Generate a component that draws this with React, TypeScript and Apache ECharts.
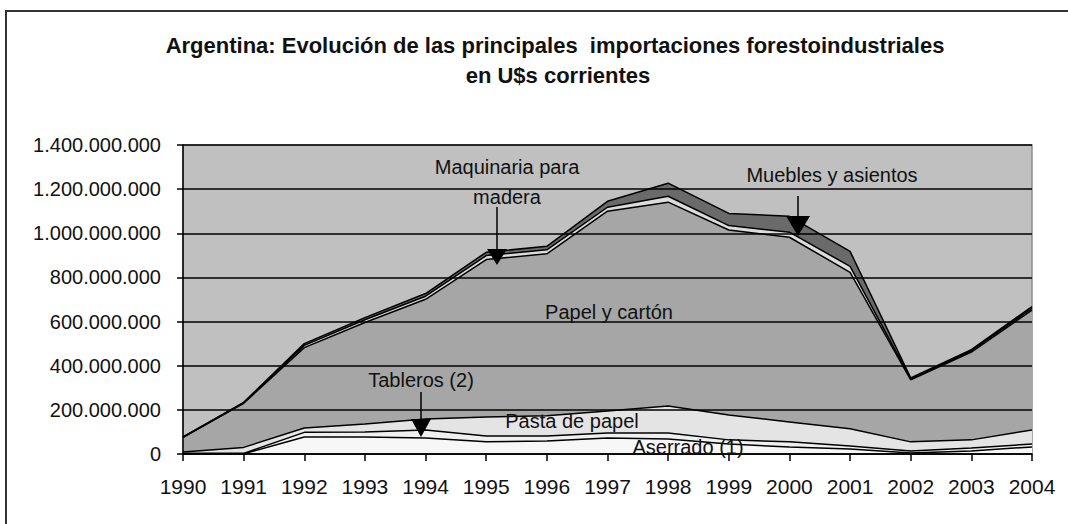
import React, { useEffect, useRef } from "react";
import * as echarts from "echarts";

const years = ["1990","1991","1992","1993","1994","1995","1996","1997","1998","1999","2000","2001","2002","2003","2004"];
// values in millions of U$s
const aserrado = [1, 1, 77, 77, 73, 55, 59, 73, 68, 45, 32, 23, 5, 14, 32];
const tableros = [2, 2, 21, 23, 36, 27, 23, 22, 27, 19, 23, 13, 9, 13, 13];
const pasta = [6, 27, 20, 36, 50, 86, 91, 100, 123, 113, 90, 78, 41, 37, 64];
const papel = [66, 200, 364, 460, 542, 713, 734, 905, 923, 838, 837, 709, 281, 398, 543];
const maquinaria = [1, 2, 10, 12, 14, 18, 18, 18, 27, 20, 23, 27, 4, 6, 8];
const muebles = [1, 2, 8, 10, 12, 15, 16, 27, 59, 55, 72, 68, 5, 5, 8];

const titleLine1 = "Argentina: Evolución de las principales  importaciones forestoindustriales";
const titleLine2 = "en U$s corrientes";

const FONT = "'Liberation Sans', Arial, sans-serif";

const fmt = (v: number) => String(Math.round(v)).replace(/\B(?=(\d{3})+(?!\d))/g, ".");

function mkSeries(name: string, data: number[], color: string) {
  return {
    name,
    type: "line",
    stack: "total",
    data: data.map((v) => v * 1e6),
    symbol: "none",
    lineStyle: { color: "#000", width: 1.5 },
    areaStyle: { color, opacity: 1 },
    z: 2,
  };
}

function label(text: string, x: number, y: number, size = 20, bold = false) {
  return {
    type: "text",
    x,
    y,
    z: 100,
    style: {
      text,
      align: "center",
      verticalAlign: "middle",
      font: `${bold ? "bold " : ""}${size}px ${FONT}`,
      fill: "#111",
    },
  };
}

function arrow(x: number, y1: number, y2: number, hw: number, hl: number) {
  return [
    { type: "line", z: 100, shape: { x1: x, y1, x2: x, y2: y2 - hl + 2 }, style: { stroke: "#000", lineWidth: 1.5 } },
    {
      type: "polygon",
      z: 100,
      shape: { points: [[x - hw, y2 - hl], [x + hw, y2 - hl], [x, y2]] },
      style: { fill: "#000" },
    },
  ];
}

export default function App() {
  const ref = useRef<HTMLDivElement>(null);
  useEffect(() => {
    if (!ref.current) return;
    const chart = echarts.init(ref.current, null, { renderer: "svg" });
    chart.setOption({
      animation: false,
      backgroundColor: "#fff",
      grid: {
        left: 183,
        right: 36,
        top: 145,
        bottom: 70,
        show: true,
        backgroundColor: "#c0c0c0",
        borderColor: "#8a8a8a",
        borderWidth: 1.5,
      },
      xAxis: {
        type: "category",
        data: years,
        boundaryGap: false,
        axisLine: { lineStyle: { color: "#000", width: 1.5 } },
        axisTick: { show: true, interval: 0, length: 7, lineStyle: { color: "#000", width: 1.5 } },
        axisLabel: { interval: 0, margin: 22, fontSize: 21, color: "#111", fontFamily: FONT },
        splitLine: { show: false },
        z: 10,
      },
      yAxis: {
        type: "value",
        min: 0,
        max: 1.4e9,
        interval: 2e8,
        axisLine: { show: true, lineStyle: { color: "#000", width: 1.5 } },
        axisTick: { show: true, length: 6, lineStyle: { color: "#000", width: 1.5 } },
        axisLabel: { margin: 22, fontSize: 20, color: "#111", fontFamily: FONT, formatter: (v: number) => fmt(v) },
        splitLine: { show: true, lineStyle: { color: "#000", width: 1.5 } },
        z: 10,
      },
      series: [
        mkSeries("Aserrado (1)", aserrado, "#f7f7f7"),
        mkSeries("Tableros (2)", tableros, "#f0f0f0"),
        mkSeries("Pasta de papel", pasta, "#e4e4e4"),
        mkSeries("Papel y cartón", papel, "#a6a6a6"),
        mkSeries("Maquinaria para madera", maquinaria, "#dcdcdc"),
        mkSeries("Muebles y asientos", muebles, "#6a6a6a"),
      ],
      graphic: [
        {
          type: "rect",
          z: 100,
          shape: { x: 6, y: 11, width: 1100, height: 600 },
          style: { fill: "none", stroke: "#333", lineWidth: 2 },
        },
        label(titleLine1, 555, 45, 22, true),
        label(titleLine2, 558, 75, 22, true),
        label("Maquinaria para", 507, 167),
        label("madera", 507, 197),
        ...arrow(497, 207, 265, 10, 16),
        label("Muebles y asientos", 832, 175),
        ...arrow(798, 196, 236, 12, 20),
        label("Papel y cartón", 609, 312),
        label("Tableros (2)", 421, 380),
        ...arrow(421, 392, 437, 10, 18),
        label("Pasta de papel", 572, 421),
        label("Aserrado (1)", 688, 447),
      ],
    });
    return () => chart.dispose();
  }, []);
  return <div ref={ref} style={{ position: "fixed", left: 0, top: 0, width: 1068, height: 524 }} />;
}
